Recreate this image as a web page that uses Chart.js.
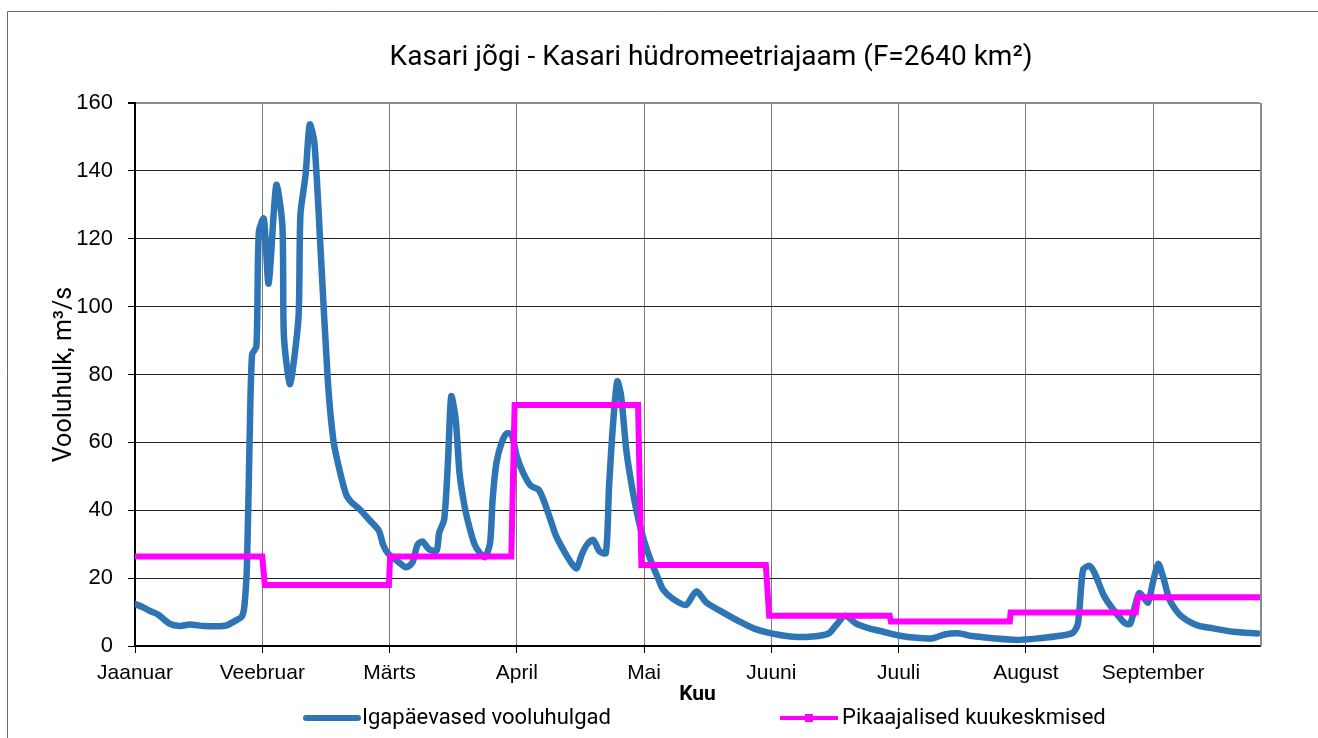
<!DOCTYPE html>
<html>
<head>
<meta charset="utf-8">
<script src="https://cdn.jsdelivr.net/npm/chart.js@4.4.0/dist/chart.umd.min.js"></script>
<style>
  html, body { margin: 0; padding: 0; background: #fff; }
  #wrap { width: 1318px; height: 738px; }
</style>
</head>
<body>
<div id="wrap"><canvas id="chart" width="1318" height="738"></canvas></div>
<script>
// month names for the x ticks
var months = ['Jaanuar', 'Veebruar', 'Märts', 'April', 'Mai', 'Juuni', 'Juuli', 'August', 'September'];
var yTicks = [0, 20, 40, 60, 80, 100, 120, 140, 160];

// daily discharge (x in month units from 1 Jan)
var dailyX = [0, 0.065, 0.118, 0.18, 0.27, 0.35, 0.43, 0.54, 0.64, 0.72, 0.80, 0.84, 0.86, 0.88, 0.90, 0.92, 0.954, 0.973,
  1.012, 1.05, 1.11, 1.158, 1.17, 1.216, 1.247, 1.286, 1.30, 1.34, 1.373, 1.41, 1.46, 1.516, 1.56, 1.61, 1.66, 1.70, 1.765, 1.84, 1.916, 1.95, 1.99,
  2.065, 2.13, 2.18, 2.22, 2.26, 2.31, 2.37, 2.39, 2.43, 2.46, 2.485, 2.52, 2.55, 2.59, 2.63, 2.67, 2.71, 2.75, 2.79, 2.81, 2.84, 2.88, 2.92, 2.96,
  3.0, 3.05, 3.11, 3.17, 3.21, 3.26, 3.31, 3.38, 3.43, 3.47, 3.51, 3.55, 3.60, 3.65, 3.70, 3.725, 3.76, 3.79, 3.82, 3.86, 3.90, 3.95,
  4.0, 4.06, 4.11, 4.15, 4.23, 4.33, 4.41, 4.49, 4.62, 4.75, 4.86,
  5.0, 5.15, 5.30, 5.45, 5.51, 5.58, 5.67, 5.77, 5.88,
  6.0, 6.14, 6.27, 6.36, 6.48, 6.56, 6.74, 6.93,
  7.11, 7.27, 7.37, 7.41, 7.45, 7.50, 7.54, 7.61, 7.66, 7.73, 7.78, 7.82, 7.86, 7.89, 7.92, 7.96,
  8.0, 8.04, 8.08, 8.13, 8.21, 8.34, 8.47, 8.63, 8.82];
var dailyQ = [12.4, 11.4, 10.3, 9.3, 6.6, 5.9, 6.3, 5.9, 5.8, 6.1, 7.7, 8.7, 11.9, 24, 59.8, 85.9, 88.2, 121.9,
  125.9, 106.8, 135.8, 124, 91.4, 77.2, 83.5, 97.7, 127.2, 138.7, 153.7, 148.2, 115.6, 77.7, 60.3, 51.4, 44.5, 42.4, 40.3, 37.2, 34, 29.8, 27.2,
  24.9, 23.2, 24.6, 29.8, 30.8, 28.5, 28.1, 33.3, 37.4, 54.9, 73.6, 66.7, 51, 41.1, 34.7, 29.8, 27.4, 26.2, 30.3, 43.1, 53.9, 59.8, 62.6, 62.3,
  55.9, 51, 47.2, 46.1, 43.1, 37.7, 32.3, 27.4, 24.4, 22.9, 26.9, 29.8, 31.3, 27.9, 27.4, 47, 67.2, 78, 73.6, 57.9, 48, 38.2,
  31, 24.4, 20, 16.6, 13.8, 12.1, 16.1, 12.8, 9.9, 7.2, 5.2,
  3.7, 2.8, 2.7, 3.7, 6.2, 8.9, 6.5, 5.2, 4.2,
  3.1, 2.4, 2.3, 3.4, 3.7, 3.0, 2.3, 1.8,
  2.3, 3.0, 3.9, 6.7, 22.5, 23.6, 21.5, 15.1, 12.1, 8.7, 6.7, 6.5, 12.1, 15.6, 14.6, 12.8,
  19, 24.2, 20.2, 13.6, 9.2, 6.2, 5.2, 4.2, 3.7];

// long-term monthly means, with the span each month covers
var monthMean = [26.4, 18.0, 26.4, 71.0, 23.9, 8.9, 7.2, 9.9, 14.4];
var monthFrom = [0, 1.02, 2.005, 2.983, 3.979, 4.983, 5.94, 6.88, 7.88];
var monthTo = [1.0, 1.995, 2.957, 3.953, 4.957, 5.93, 6.874, 7.864, 8.84];

var blueColor = '#2E75B6';
var pinkColor = '#FF00FF';

var daily = dailyX.map(function (x, i) { return { x: x, y: dailyQ[i] }; });
var means = [];
monthMean.forEach(function (v, i) {
    means.push({ x: monthFrom[i], y: v });
    means.push({ x: monthTo[i], y: v });
});

var decor = {
    id: 'decor',
    beforeDraw: function (chart) {
        var ctx = chart.ctx;
        ctx.save();
        ctx.fillStyle = '#fff';
        ctx.fillRect(0, 0, chart.width, chart.height);
        ctx.strokeStyle = '#6b6b6b';
        ctx.lineWidth = 1;
        ctx.beginPath();
        ctx.moveTo(7.5, chart.height + 2);
        ctx.lineTo(7.5, 11.5);
        ctx.lineTo(chart.width + 2, 11.5);
        ctx.stroke();
        ctx.restore();
    },
    afterDraw: function (chart) {
        var ctx = chart.ctx;
        var a = chart.chartArea;
        ctx.save();
        // plot frame right side
        ctx.strokeStyle = '#8a8a8a';
        ctx.lineWidth = 2;
        ctx.beginPath();
        ctx.moveTo(a.right + 1, a.top);
        ctx.lineTo(a.right + 1, a.bottom);
        ctx.stroke();

        // title
        ctx.fillStyle = '#000';
        ctx.textAlign = 'center';
        ctx.textBaseline = 'middle';
        ctx.font = '28px Roboto';
        ctx.fillText('Kasari jõgi - Kasari hüdromeetriajaam (F=2640 km²)', 711, 58);

        // legend
        var ly = 718;
        ctx.lineCap = 'round';
        ctx.strokeStyle = blueColor;
        ctx.lineWidth = 6;
        ctx.beginPath();
        ctx.moveTo(306, ly);
        ctx.lineTo(358, ly);
        ctx.stroke();
        ctx.lineCap = 'butt';
        ctx.strokeStyle = pinkColor;
        ctx.lineWidth = 4;
        ctx.beginPath();
        ctx.moveTo(780, ly);
        ctx.lineTo(838, ly);
        ctx.stroke();
        ctx.fillStyle = pinkColor;
        ctx.fillRect(805, ly - 4, 8, 8);
        ctx.fillStyle = '#000';
        ctx.textAlign = 'left';
        ctx.font = '22px Roboto';
        ctx.fillText('Igapäevased vooluhulgad', 362, ly);
        ctx.fillText('Pikaajalised kuukeskmised', 842, ly);
        ctx.restore();
    }
};

var ctx = document.getElementById('chart').getContext('2d');
var chart = new Chart(ctx, {
    type: 'line',
    data: {
        datasets: [
            {
                label: 'Igapäevased vooluhulgad',
                data: daily,
                borderColor: blueColor,
                borderWidth: 6.5,
                pointRadius: 0,
                tension: 0.25,
                borderCapStyle: 'round',
                borderJoinStyle: 'round',
                order: 1
            },
            {
                label: 'Pikaajalised kuukeskmised',
                data: means,
                borderColor: pinkColor,
                borderWidth: 6,
                pointRadius: 0,
                tension: 0,
                order: 0
            }
        ]
    },
    options: {
        responsive: false,
        animation: false,
        events: [],
        layout: { padding: { left: 40, right: 58, top: 103, bottom: 31 } },
        plugins: {
            legend: { display: false },
            tooltip: { enabled: false },
            title: { display: false }
        },
        scales: {
            x: {
                type: 'linear',
                min: 0,
                max: 8.84,
                afterFit: function (scale) { scale.height = 61; },
                afterBuildTicks: function (scale) {
                    scale.ticks = months.map(function (m, i) { return { value: i }; });
                },
                ticks: {
                    autoSkip: false,
                    maxRotation: 0,
                    padding: 8,
                    color: '#000',
                    font: { family: 'Liberation Sans', size: 21 },
                    callback: function (v) { return months[v]; }
                },
                grid: {
                    color: '#7a7a7a',
                    lineWidth: 1,
                    tickLength: 7,
                    tickColor: '#000'
                },
                border: { color: '#000', width: 2 },
                title: {
                    display: true,
                    text: 'Kuu',
                    color: '#000',
                    padding: { top: 0, bottom: 0 },
                    font: { family: 'Roboto', size: 21, weight: 'bold' }
                }
            },
            y: {
                min: 0,
                max: 160,
                afterFit: function (scale) { scale.width = 95; },
                afterBuildTicks: function (scale) {
                    scale.ticks = yTicks.map(function (v) { return { value: v }; });
                },
                ticks: {
                    padding: 15,
                    color: '#000',
                    font: { family: 'Liberation Sans', size: 22 }
                },
                grid: {
                    color: function (c) { return c.tick && c.tick.value === 160 ? '#8a8a8a' : '#222'; },
                    lineWidth: function (c) { return c.tick && c.tick.value === 160 ? 2 : 1; },
                    tickLength: 7,
                    tickColor: '#000'
                },
                border: { color: '#000', width: 2 },
                title: {
                    display: true,
                    text: 'Vooluhulk, m³/s',
                    color: '#000',
                    padding: { top: 10, bottom: 0 },
                    font: { family: 'Roboto', size: 25 }
                }
            }
        }
    },
    plugins: [decor]
});
</script>
</body>
</html>
